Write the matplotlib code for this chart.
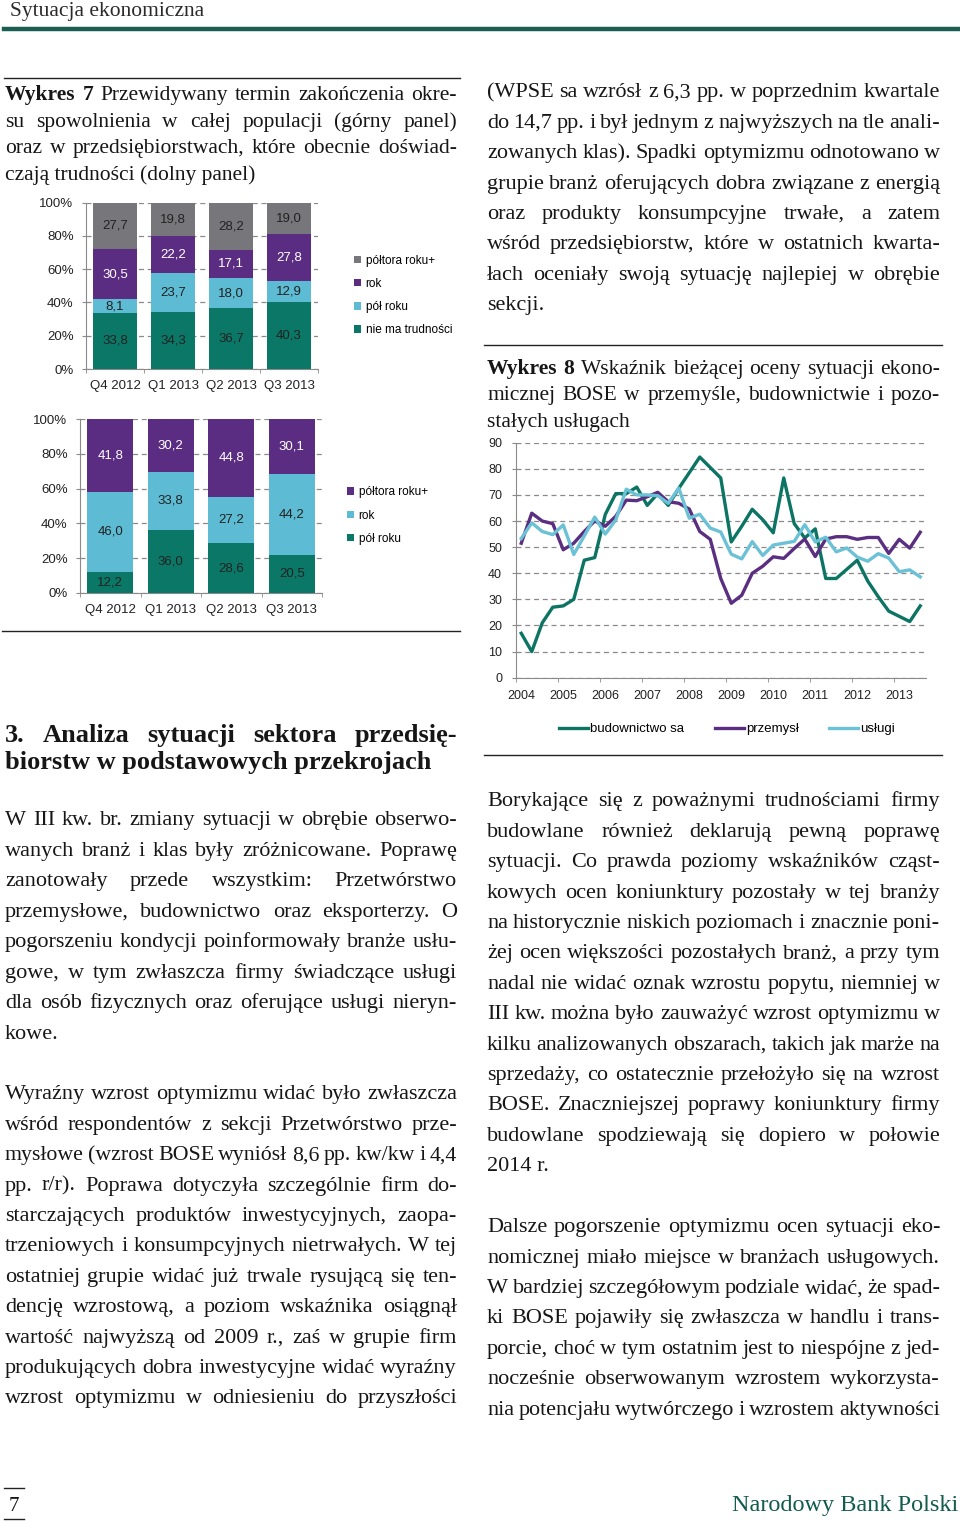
import numpy as np
import matplotlib
matplotlib.use('Agg')
import matplotlib.pyplot as plt
from matplotlib.lines import Line2D

W, H = 960, 1522

# --- Wykres 7: przewidywany termin zakończenia spowolnienia (%)
kwartaly = ['Q4 2012', 'Q1 2013', 'Q2 2013', 'Q3 2013']
# górny panel - cała populacja
nie_ma_trudnosci = [33.8, 34.3, 36.7, 40.3]
pol_roku = [8.1, 23.7, 18.0, 12.9]
rok = [30.5, 22.2, 17.1, 27.8]
poltora_roku = [27.7, 19.8, 28.2, 19.0]
# dolny panel - firmy, które mają trudności
pol_roku_d = [12.2, 36.0, 28.6, 20.5]
rok_d = [46.0, 33.8, 27.2, 44.2]
poltora_roku_d = [41.8, 30.2, 44.8, 30.1]

# --- Wykres 8: BOSE kwartalnie 2004 Q1 - 2013 Q3
lata = ['2004', '2005', '2006', '2007', '2008', '2009', '2010', '2011', '2012', '2013']
budownictwo = [17, 10, 21, 27, 27.5, 30, 45, 46, 62.5, 70.5,
               70.5, 73, 66, 70.5, 66, 72.5, 78.5, 84.5, 80.5, 76.5,
               52, 58, 64.5, 60.5, 55.5, 76.5, 59, 53.5, 57, 38,
               38, 41.5, 45, 37, 31, 25.5, 23.5, 21.5, 27.5]
przemysl = [51.5, 63, 60, 59, 49, 51.5, 56, 60, 58, 61.8,
            68, 67.8, 69.3, 71, 67.4, 66.8, 64.6, 56, 53, 38,
            28.5, 31.6, 40, 42.7, 46.3, 45.7, 49.5, 53.1, 46.4, 53.1,
            54, 54, 53, 53.7, 53.7, 47.6, 53, 49.6, 55.7]
uslugi = [53.3, 59.3, 56, 54.8, 58.5, 47.2, 54.3, 61.5, 55, 60.4,
          72.2, 70, 70, 69.7, 66.8, 72.6, 61.1, 62.6, 57.3, 55.8,
          47.3, 45.5, 52.1, 46.8, 50.8, 51.5, 52.2, 58.6, 52, 53.8,
          48.2, 49.7, 46.2, 44.6, 47.5, 45.8, 40.6, 41.3, 38.6]

GREY = '#77777b'
PURPLE = '#5b2d82'
LBLUE = '#5dbcd3'
TEAL = '#0a7767'
GRIDC = '#8a8a8a'
SANS = ['Liberation Sans', 'DejaVu Sans']
SERIF = ['Liberation Serif', 'DejaVu Serif']
INK = '#161616'

fig = plt.figure(figsize=(W / 100, H / 100), dpi=100, facecolor='white')
R = fig.canvas.get_renderer()


def fx(x):
    return x / W


def fy(y):
    return 1 - y / H


def box(l, t, r, b):
    return [fx(l), fy(b), (r - l) / W, (b - t) / H]


def hline(x0, x1, y, lw=1.0, color='#222222'):
    fig.add_artist(Line2D([fx(x0), fx(x1)], [fy(y), fy(y)], lw=lw, color=color,
                          transform=fig.transFigure))


def stacked(ax, series, colors, tcolors, labels):
    x = np.arange(len(kwartaly))
    tot = np.sum(np.array(series), axis=0)
    bottom = np.zeros(len(kwartaly))
    for vals, c, tc, lab in zip(series, colors, tcolors, labels):
        share = np.array(vals) / tot * 100
        ax.bar(x, share, 0.76, bottom=bottom, color=c, label=lab, zorder=3)
        for xi, b, s, v in zip(x, bottom, share, vals):
            ax.text(xi, b + s / 2, f'{v:.1f}'.replace('.', ','), ha='center', va='center',
                    color=tc, fontsize=9.5, family=SANS, zorder=4)
        bottom += share
    ax.set_xlim(-0.5, 3.5)
    ax.set_ylim(0, 100)
    ax.set_yticks(range(0, 101, 20))
    ax.set_yticklabels([f'{v}%' for v in range(0, 101, 20)], family=SANS, fontsize=9.5, color='#222')
    ax.set_xticks(x)
    ax.set_xticklabels(kwartaly, family=SANS, fontsize=9.5, color='#222')
    ax.set_xticks(np.arange(-0.5, 4, 1), minor=True)
    ax.tick_params(axis='x', which='major', length=0, pad=8)
    ax.tick_params(axis='x', which='minor', length=3, color=GRIDC)
    ax.tick_params(axis='y', length=3, color=GRIDC, pad=6)
    ax.yaxis.grid(True, linestyle=(0, (4, 3)), color=GRIDC, lw=0.9, zorder=0)
    ax.set_axisbelow(True)
    for s in ['top', 'right']:
        ax.spines[s].set_visible(False)
    for s in ['left', 'bottom']:
        ax.spines[s].set_color(GRIDC)
    h, l = ax.get_legend_handles_labels()
    return h[::-1], l[::-1]


# górny panel
ax1 = fig.add_axes(box(86, 202.7, 318, 369))
h, l = stacked(ax1, [nie_ma_trudnosci, pol_roku, rok, poltora_roku],
               [TEAL, LBLUE, PURPLE, GREY], ['#222', '#222', 'white', '#222'],
               ['nie ma trudności', 'pół roku', 'rok', 'półtora roku+'])
ax1.legend(h, l, loc='center left', bbox_to_anchor=(fx(348), fy(295.5)),
           bbox_transform=fig.transFigure, frameon=False, prop={'family': SANS, 'size': 8.5},
           handlelength=0.6, handleheight=0.6, handletextpad=0.4, labelspacing=0.95, borderpad=0)

# dolny panel
ax2 = fig.add_axes(box(80, 419.3, 322, 592.7))
h, l = stacked(ax2, [pol_roku_d, rok_d, poltora_roku_d],
               [TEAL, LBLUE, PURPLE], ['#222', '#222', 'white'],
               ['pół roku', 'rok', 'półtora roku+'])
ax2.legend(h, l, loc='center left', bbox_to_anchor=(fx(341), fy(515.6)),
           bbox_transform=fig.transFigure, frameon=False, prop={'family': SANS, 'size': 8.5},
           handlelength=0.6, handleheight=0.6, handletextpad=0.4, labelspacing=0.95, borderpad=0)

# wykres liniowy
ax3 = fig.add_axes(box(516, 442.7, 925.5, 677.7))
q = np.arange(len(budownictwo))
ax3.plot(q, budownictwo, color='#0c7463', lw=2.4, label='budownictwo sa', zorder=3)
ax3.plot(q, przemysl, color='#5a2e80', lw=2.4, label='przemysł', zorder=3)
ax3.plot(q, uslugi, color='#6bc1d5', lw=2.4, label='usługi', zorder=3)
ax3.set_xlim(-0.5, 38.5)
ax3.set_ylim(0, 90)
ax3.set_yticks(range(0, 91, 10))
ax3.set_yticklabels([str(v) for v in range(0, 91, 10)], family=SANS, fontsize=9, color='#222')
ax3.set_xticks(np.arange(0, 40, 4))
ax3.set_xticklabels(lata, family=SANS, fontsize=9, color='#222')
ax3.set_xticks(np.arange(-0.5, 37, 4), minor=True)
ax3.tick_params(axis='x', which='major', length=0, pad=9)
ax3.tick_params(axis='x', which='minor', length=3, color=GRIDC)
ax3.tick_params(axis='y', length=3, color=GRIDC, pad=7)
ax3.yaxis.grid(True, linestyle=(0, (4, 3)), color=GRIDC, lw=0.9, zorder=0)
for s in ['top', 'right']:
    ax3.spines[s].set_visible(False)
for s in ['left', 'bottom']:
    ax3.spines[s].set_color(GRIDC)
ax3.legend(loc='center', bbox_to_anchor=(fx(727), fy(729)), bbox_transform=fig.transFigure,
           ncol=3, frameon=False, prop={'family': SANS, 'size': 9.5}, handlelength=2.2,
           handletextpad=0.15, columnspacing=2.3, borderpad=0)


# --- tekst strony (wyjustowany)
def line(x0, x1, y, txt, justify=True, nbold=0, size=16, weight='normal', color=INK):
    base = fy(y + size * 0.34)
    if not justify:
        fig.text(fx(x0), base, txt, fontsize=size, fontweight=weight, family=SERIF,
                 color=color, va='baseline')
        return
    words = txt.split(' ')
    arts = [fig.text(fx(x0), base, w, fontsize=size, family=SERIF, color=color, va='baseline',
                     fontweight='bold' if k < nbold else weight) for k, w in enumerate(words)]
    widths = [a.get_window_extent(R).width for a in arts]
    n = max(len(words) - 1, 1)
    min_gap = size * 1.389 * 0.2
    need = sum(widths) + n * min_gap
    if need > x1 - x0:
        f = (x1 - x0 - n * min_gap) / sum(widths)
        for a in arts:
            a.set_fontsize(size * f)
        widths = [w * f for w in widths]
    gap = (x1 - x0 - sum(widths)) / n
    x = x0
    for a, wd in zip(arts, widths):
        a.set_x(fx(x))
        x += wd + gap


def para(x0, x1, y0, step, lines, last_justified=False, nbold=0, size=16, weight='normal'):
    for i, t in enumerate(lines):
        just = last_justified or i < len(lines) - 1
        line(x0, x1, y0 + i * step, t, just, nbold if i == 0 else 0, size, weight)


# nagłówek i stopka
fig.text(fx(10), fy(10 + 6), 'Sytuacja ekonomiczna', fontsize=15.5, family=SERIF, color='#2a2a2a',
         va='baseline')
hline(4, 960, 28.5, lw=3.2, color='#1b5e52')
fig.text(fx(958), fy(1505 + 6), 'Narodowy Bank Polski', fontsize=17.5, family=SERIF,
         color='#125c4d', ha='right', va='baseline')
fig.text(fx(14), fy(1505 + 6), '7', fontsize=15, family=SERIF, color=INK, ha='center', va='baseline')
hline(4, 24, 1488, lw=1.0)
hline(4, 24, 1519, lw=1.0)

# linie oddzielające
hline(4, 460, 78, lw=1.0)
hline(2, 460, 630.5, lw=1.0)
hline(484, 942, 345, lw=1.0)
hline(484, 942, 755, lw=1.0)

L0, L1 = 5, 457
R0, R1 = 487, 940

para(L0, L1, 95, 26.6, [
    'Wykres 7 Przewidywany termin zakończenia okre-',
    'su spowolnienia w całej populacji (górny panel)',
    'oraz w przedsiębiorstwach, które obecnie doświad-',
    'czają trudności (dolny panel)'], nbold=2, size=15.5)

para(R0, R1, 92, 30.4, [
    '(WPSE sa wzrósł z 6,3 pp. w poprzednim kwartale',
    'do 14,7 pp. i był jednym z najwyższych na tle anali-',
    'zowanych klas). Spadki optymizmu odnotowano w',
    'grupie branż oferujących dobra związane z energią',
    'oraz produkty konsumpcyjne trwałe, a zatem',
    'wśród przedsiębiorstw, które w ostatnich kwarta-',
    'łach oceniały swoją sytuację najlepiej w obrębie',
    'sekcji.'])

para(R0, R1, 369, 26.2, [
    'Wykres 8 Wskaźnik bieżącej oceny sytuacji ekono-',
    'micznej BOSE w przemyśle, budownictwie i pozo-',
    'stałych usługach'], nbold=2, size=15.5)

para(L0, L1, 736, 26.5, [
    '3. Analiza sytuacji sektora przedsię-',
    'biorstw w podstawowych przekrojach'], size=19, weight='bold')

para(L0, L1, 820, 30.45, [
    'W III kw. br. zmiany sytuacji w obrębie obserwo-',
    'wanych branż i klas były zróżnicowane. Poprawę',
    'zanotowały przede wszystkim: Przetwórstwo',
    'przemysłowe, budownictwo oraz eksporterzy. O',
    'pogorszeniu kondycji poinformowały branże usłu-',
    'gowe, w tym zwłaszcza firmy świadczące usługi',
    'dla osób fizycznych oraz oferujące usługi nieryn-',
    'kowe.'])

para(L0, L1, 1094, 30.4, [
    'Wyraźny wzrost optymizmu widać było zwłaszcza',
    'wśród respondentów z sekcji Przetwórstwo prze-',
    'mysłowe (wzrost BOSE wyniósł 8,6 pp. kw/kw i 4,4',
    'pp. r/r). Poprawa dotyczyła szczególnie firm do-',
    'starczających produktów inwestycyjnych, zaopa-',
    'trzeniowych i konsumpcyjnych nietrwałych. W tej',
    'ostatniej grupie widać już trwale rysującą się ten-',
    'dencję wzrostową, a poziom wskaźnika osiągnął',
    'wartość najwyższą od 2009 r., zaś w grupie firm',
    'produkujących dobra inwestycyjne widać wyraźny',
    'wzrost optymizmu w odniesieniu do przyszłości'], last_justified=True)

para(R0, R1, 801, 30.4, [
    'Borykające się z poważnymi trudnościami firmy',
    'budowlane również deklarują pewną poprawę',
    'sytuacji. Co prawda poziomy wskaźników cząst-',
    'kowych ocen koniunktury pozostały w tej branży',
    'na historycznie niskich poziomach i znacznie poni-',
    'żej ocen większości pozostałych branż, a przy tym',
    'nadal nie widać oznak wzrostu popytu, niemniej w',
    'III kw. można było zauważyć wzrost optymizmu w',
    'kilku analizowanych obszarach, takich jak marże na',
    'sprzedaży, co ostatecznie przełożyło się na wzrost',
    'BOSE. Znaczniejszej poprawy koniunktury firmy',
    'budowlane spodziewają się dopiero w połowie',
    '2014 r.'])

para(R0, R1, 1227, 30.35, [
    'Dalsze pogorszenie optymizmu ocen sytuacji eko-',
    'nomicznej miało miejsce w branżach usługowych.',
    'W bardziej szczegółowym podziale widać, że spad-',
    'ki BOSE pojawiły się zwłaszcza w handlu i trans-',
    'porcie, choć w tym ostatnim jest to niespójne z jed-',
    'nocześnie obserwowanym wzrostem wykorzysta-',
    'nia potencjału wytwórczego i wzrostem aktywności'], last_justified=True)

fig.savefig('out.png', dpi=100, facecolor='white')
